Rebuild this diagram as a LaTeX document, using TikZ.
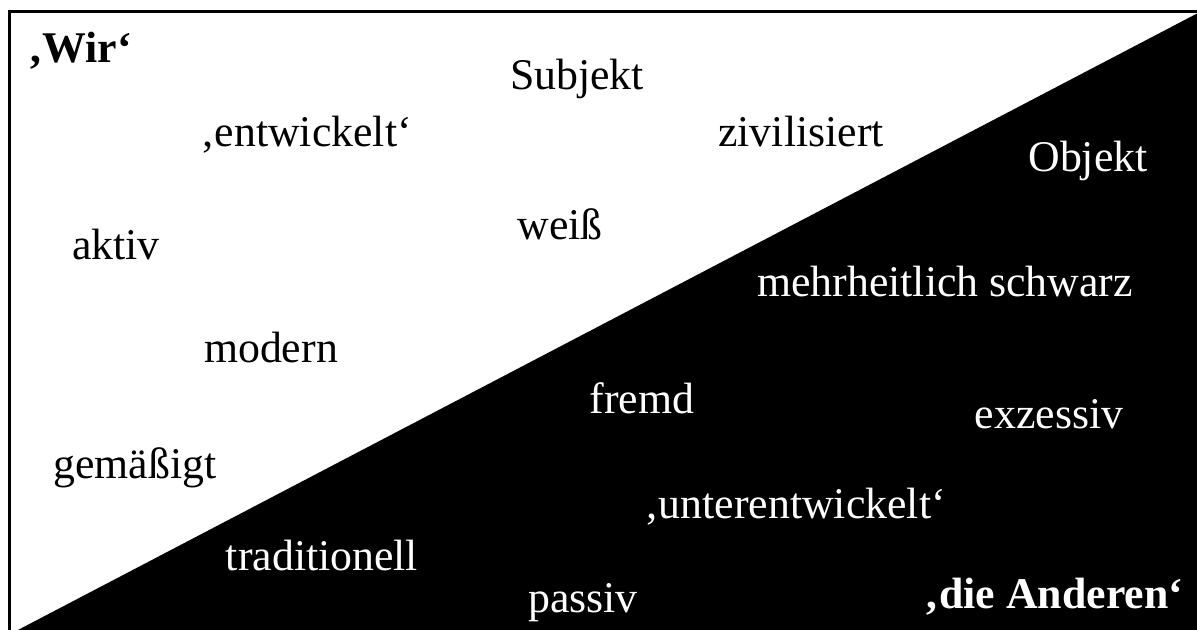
\documentclass[tikz,border=0pt]{standalone}
\usepackage{fontspec}
\setmainfont{Liberation Serif}
\usepackage{tikz}

\begin{document}
\begin{tikzpicture}[
		x=0.5pt, y=-0.5pt,
		font=\fontsize{21.9}{26}\selectfont,
		wort/.style={anchor=base, inner sep=0pt, text=black},
		wortw/.style={wort, text=white},
		rahmen/.style={draw=black, line width=1.5pt}
		]
		
		\useasboundingbox (0,0) rectangle (1197,630);
		\fill[white] (0,0) rectangle (1197,630);
		
		% Rahmen und schwarzes Dreieck
		\draw[rahmen] (9.5,12) rectangle (1210,645);
		\fill[black] (16,631) -- (1198,13) -- (1198,631) -- cycle;
		
		% obere Haelfte
		\node[wort] (wir) at (80,63) {\textbf{‚Wir‘}};
		\node[wort] (subjekt) at (577,90) {Subjekt};
		\node[wort] (entw) at (306,147) {‚entwickelt‘};
		\node[wort] (ziv) at (801,147) {zivilisiert};
		\node[wort] (aktiv) at (116,260) {aktiv};
		\node[wort] (weiss) at (560,240) {weiß};
		\node[wort] (modern) at (271,362) {modern};
		\node[wort] (gem) at (135,478) {gemäßigt};
		
		% untere Haelfte
		\node[wortw] (objekt) at (1088,172) {Objekt};
		\node[wortw] (schwarz) at (945,297) {mehrheitlich schwarz};
		\node[wortw] (fremd) at (642,413) {fremd};
		\node[wortw] (exz) at (1049,428) {exzessiv};
		\node[wortw] (unterentw) at (795,518) {‚unterentwickelt‘};
		\node[wortw] (trad) at (322,570) {traditionell};
		\node[wortw] (passiv) at (583,612) {passiv};
		\node[wortw] (andere) at (1054,608) {\textbf{‚die Anderen‘}};
		
	\end{tikzpicture}
\end{document}
